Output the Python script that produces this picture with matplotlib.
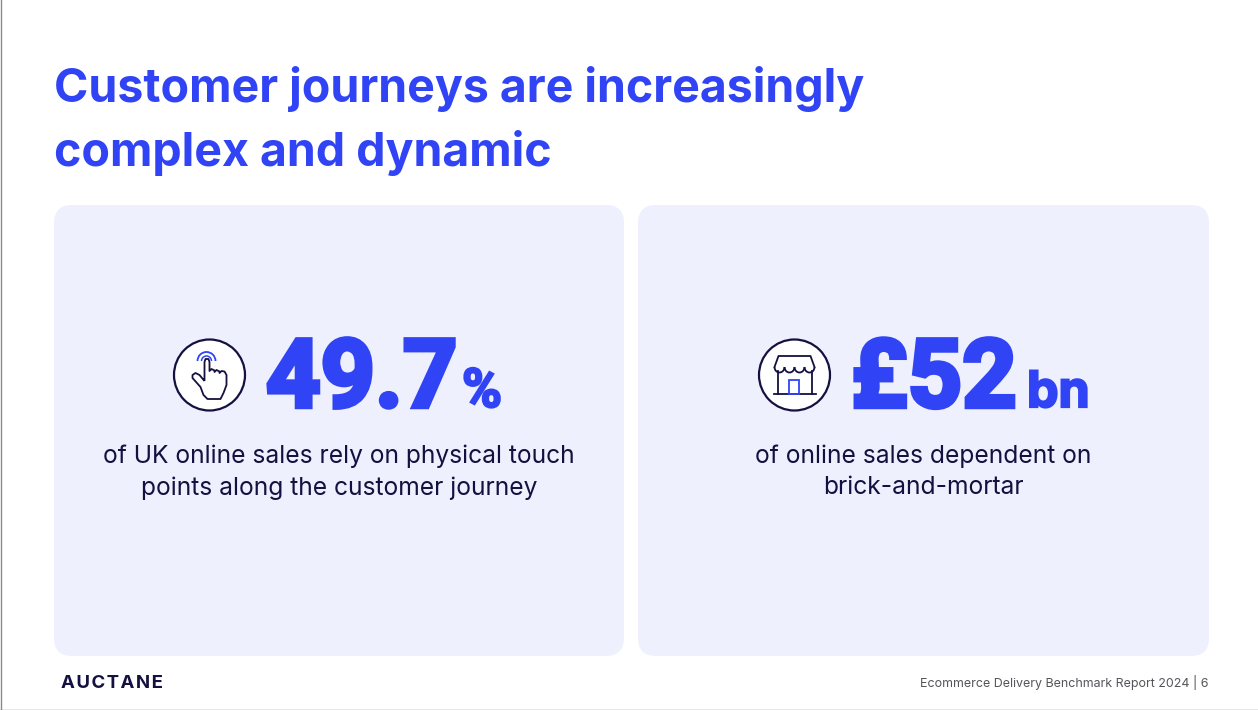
import matplotlib.pyplot as plt
import matplotlib.patheffects as pe
from matplotlib.patches import Circle, FancyBboxPatch, PathPatch, Arc, Rectangle
from matplotlib.path import Path

BLUE = "#3044F5"
NAVY = "#14103F"
PANEL = "#EEF0FD"
GREY = "#55555A"

TITLE_LINES = ["Customer journeys are increasingly", "complex and dynamic"]
STAT_VALUES = ["49.7", "£52"]
STAT_UNITS = ["%", "bn"]
UNIT_FONTS = ["Roboto", "Inter"]
UNIT_SIZES = [39, 36]
STAT_TEXT = [["of UK online sales rely on physical touch", "points along the customer journey"],
             ["of online sales dependent on", "brick-and-mortar"]]
BRAND = "AUCTANE"
FOOTER = "Ecommerce Delivery Benchmark Report 2024 | 6"

plt.rcParams["font.family"] = ["Inter", "DejaVu Sans"]


def panel(ax, x0, x1, y0, y1):
    r = 18
    ax.add_patch(FancyBboxPatch((x0 + r, y0 + r), x1 - x0 - 2 * r, y1 - y0 - 2 * r,
                                boxstyle=f"round,pad={r},rounding_size={r}",
                                fc=PANEL, ec="none", zorder=1))


def badge(ax, cx, cy):
    ax.add_patch(Circle((cx, cy), 35.5, fc="white", ec=NAVY, lw=1.6, zorder=2))


def hand_icon(ax, cx, cy):
    # outline of the pointing hand, relative to the badge centre
    pts = [(-5, 6), (-5, -13), (-4, -16), (-1, -16), (0, -13), (0, -4), (2, -6), (5, -4.5),
           (5, -3), (7, -5), (10, -3.5), (10, -2), (12, -4), (15, -3.5), (17, 0), (17, 10),
           (14, 18), (11, 24), (-2, 24), (-6, 20), (-9, 12), (-17, 3), (-17, 0), (-14, -2),
           (-10, 0), (-5, 6)]
    verts = [(cx + a, cy + b) for a, b in pts]
    codes = [Path.MOVETO] + [Path.LINETO] * (len(verts) - 1)
    ax.add_patch(PathPatch(Path(verts, codes), fc="none", ec=NAVY, lw=1.3,
                           joinstyle="round", zorder=3))
    ax.add_patch(Arc((cx - 3, cy - 14), 10, 10, theta1=180, theta2=360, ec=BLUE, lw=1.1, zorder=3))
    ax.add_patch(Arc((cx - 3, cy - 14), 18, 18, theta1=180, theta2=360, ec=BLUE, lw=1.3, zorder=3))


def shop_icon(ax, cx, cy):
    # awning, walls, floor and door, relative to the badge centre
    ax.plot([cx - 20, cx - 16, cx + 16, cx + 20], [cy - 8, cy - 19, cy - 19, cy - 8],
            color=NAVY, lw=1.3, zorder=3)
    for i in range(4):
        ax.add_patch(Arc((cx - 15 + i * 10, cy - 8), 10, 11, theta1=0, theta2=180,
                         ec=NAVY, lw=1.3, zorder=3))
    ax.plot([cx - 17, cx - 17], [cy - 4, cy + 19], color=NAVY, lw=1.3, zorder=3)
    ax.plot([cx + 17, cx + 17], [cy - 4, cy + 19], color=NAVY, lw=1.3, zorder=3)
    ax.plot([cx - 21, cx + 21], [cy + 19, cy + 19], color=NAVY, lw=1.3, zorder=3)
    ax.add_patch(Rectangle((cx - 5.5, cy + 5), 10, 14, fc="none", ec=BLUE, lw=1.3, zorder=3))


fig = plt.figure(figsize=(12.58, 7.10), dpi=100, facecolor="white")
ax = fig.add_axes([0, 0, 1, 1])
ax.set_xlim(0, 1258)
ax.set_ylim(710, 0)
ax.axis("off")

# screenshot edges on the left and bottom
ax.plot([0.5, 0.5], [0, 710], color="#8A8A8A", lw=1.0)
ax.plot([0, 1258], [709.5, 709.5], color="#8A8A8A", lw=1.0)

for line, y in zip(TITLE_LINES, [102, 166]):
    ax.text(54, y, line, color=BLUE, fontsize=33.5, fontweight="bold", va="baseline", ha="left")

panel(ax, 54, 624, 205, 656)
panel(ax, 638, 1209, 205, 656)

badge(ax, 209.5, 375)
hand_icon(ax, 209.5, 375)
badge(ax, 794.5, 375)
shop_icon(ax, 794.5, 375)

for val, xv, xu, unit, uf, us in zip(STAT_VALUES, [266, 851], [462, 1027], STAT_UNITS,
                                     UNIT_FONTS, UNIT_SIZES):
    ax.text(xv, 407, val, color=BLUE, fontsize=68.5, fontweight="bold", family="Roboto",
            va="baseline", ha="left", zorder=3,
            path_effects=[pe.withStroke(linewidth=3.2, foreground=BLUE, joinstyle="miter")])
    ax.text(xu, 407, unit, color=BLUE, fontsize=us, fontweight="bold", family=uf,
            va="baseline", ha="left", zorder=3,
            path_effects=[pe.withStroke(linewidth=1.6, foreground=BLUE, joinstyle="miter")])

for lines, xc in zip(STAT_TEXT, [339, 923]):
    for line, y in zip(lines, [456, 488]):
        ax.text(xc, y, line, color=NAVY, fontsize=17.7, va="center", ha="center", zorder=3)

# wider tracking on the wordmark via hair spaces
ax.text(61, 684, "\u200a".join(BRAND), color=NAVY, fontsize=13.4, fontweight="bold",
        va="center", ha="left")
ax.text(1209, 683, FOOTER, color=GREY, fontsize=8.95, va="center", ha="right")

fig.savefig("out.png", dpi=100)
